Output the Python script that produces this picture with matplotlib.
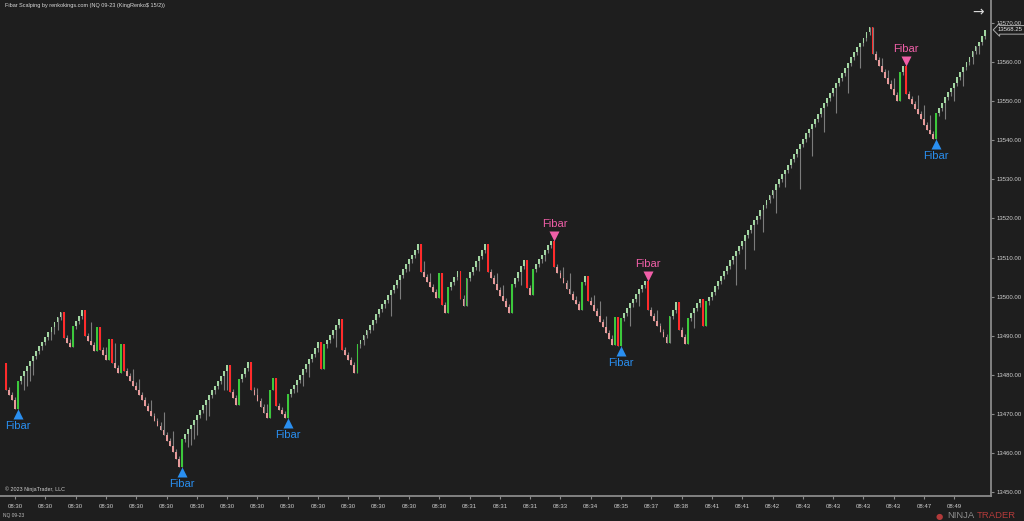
import numpy as np
import matplotlib
matplotlib.use("Agg")
import matplotlib.pyplot as plt
from matplotlib.transforms import offset_copy

# --- données ---
start_open = 13483.0
closes = [
    13476.0, 13474.75, 13473.5, 13471.25, 13478.5,                      # 0-4
    13479.75, 13481.0, 13482.25, 13483.5, 13484.75, 13486.0, 13487.25,
    13488.5, 13489.75, 13491.0, 13492.25, 13493.5, 13494.75, 13496.0,    # 5-18
    13489.5, 13488.25, 13487.0, 13492.5, 13493.75, 13495.0, 13496.5,
    13490.0, 13488.75, 13487.5, 13486.0, 13492.25, 13486.25, 13485.0,
    13483.75, 13489.25, 13483.0, 13481.75, 13480.5, 13487.75, 13481.0,   # 19-39
    13479.75, 13478.5, 13477.25, 13476.0, 13474.75, 13473.5, 13472.0,
    13470.75, 13469.5, 13468.25, 13467.0, 13465.75, 13464.5, 13463.0,
    13461.75, 13460.25, 13458.5, 13456.5,                                # 40-57
    13463.5,                                                             # 58
    13464.75, 13466.0, 13467.25, 13468.5, 13469.75, 13471.0, 13472.25,
    13473.5, 13474.75, 13476.0, 13477.25, 13478.5, 13479.75, 13481.0,
    13482.5,                                                             # 59-73
    13475.5, 13474.0, 13472.25, 13479.0, 13480.25, 13481.75, 13483.25,
    13476.0, 13474.75, 13473.25, 13471.75, 13470.25, 13469.0, 13476.0,
    13479.25, 13472.0, 13471.0, 13470.0, 13469.0,                        # 74-92
    13475.0,                                                             # 93
    13476.25, 13477.5, 13478.75, 13480.0, 13481.5, 13482.75, 13484.0,
    13485.25, 13486.75, 13488.5,                                         # 94-103
    13481.5, 13487.75, 13489.0, 13490.25, 13491.5, 13492.75, 13494.25,
    13486.25, 13485.0, 13483.75, 13482.5, 13480.5, 13487.75,             # 104-116
    13489.0, 13490.25, 13491.5, 13492.75, 13494.0, 13495.5, 13496.75,
    13498.0, 13499.25, 13500.5, 13501.75, 13503.0, 13504.25, 13505.5,
    13507.0, 13508.25, 13509.5, 13510.75, 13512.0, 13513.5,              # 117-136
    13506.25, 13505.0, 13503.75, 13502.5, 13501.25, 13499.75, 13506.0,
    13497.75, 13495.75, 13502.5,                                         # 137-146
    13503.75, 13505.0, 13506.5, 13499.5, 13497.5, 13504.75,              # 147-152
    13506.25, 13507.5, 13509.0, 13510.5, 13512.0, 13513.5,               # 153-158
    13506.25, 13504.75, 13503.25, 13501.75, 13500.25, 13498.75, 13497.25,
    13495.75,                                                            # 159-166
    13503.25, 13504.75, 13506.25, 13507.75, 13509.25, 13502.25, 13500.5,
    13507.0,                                                             # 167-174
    13508.25, 13509.5, 13510.75, 13512.0, 13513.25, 13514.25,            # 175-180
    13507.5, 13506.0, 13504.75, 13503.5, 13502.0, 13500.75, 13499.25,
    13498.0, 13496.5,                                                    # 181-189
    13503.75, 13505.25, 13499.0,                                         # 190-192
    13497.75, 13496.25, 13495.0, 13493.5, 13492.25, 13490.75, 13489.25,
    13487.5,                                                             # 193-200
    13494.75, 13487.25, 13494.5,                                         # 201-203
    13495.75, 13497.0, 13498.25, 13499.5, 13500.75, 13502.0, 13503.0,
    13504.0,                                                             # 204-211
    13496.5, 13495.0, 13493.75, 13492.5, 13491.0, 13489.75, 13488.25,    # 212-218
    13495.0, 13496.5, 13498.5, 13491.5, 13489.75, 13487.75, 13494.5,     # 219-225
    13495.75, 13497.0, 13498.25, 13499.5, 13492.5, 13498.75,             # 226-231
    13500.0, 13501.25, 13502.75, 13504.0, 13505.25, 13506.5, 13507.75,
    13509.25, 13510.5, 13511.75, 13513.0, 13514.25, 13515.75, 13517.0,
    13518.25, 13519.5, 13520.75, 13522.25, 13523.5, 13524.75, 13526.0,
    13527.25, 13528.75, 13530.0, 13531.25, 13532.5, 13533.75, 13535.25,
    13536.5, 13537.75, 13539.0, 13540.25, 13541.75, 13543.0, 13544.25,
    13545.5, 13546.75, 13548.25, 13549.5, 13550.75, 13552.0, 13553.25,
    13554.75, 13556.0, 13557.25, 13558.5, 13559.75, 13561.25, 13562.5,
    13563.75, 13565.0, 13566.25, 13567.75, 13569.0,                      # 232-285
    13562.0, 13560.5, 13559.0, 13557.5, 13556.0, 13554.5, 13553.0,
    13551.5, 13550.0,                                                    # 286-294
    13557.5, 13559.0, 13551.75,                                          # 295-297
    13550.5, 13549.25, 13548.0, 13546.75, 13545.5, 13544.0, 13542.75,
    13541.5, 13540.25,                                                   # 298-306
    13547.0,                                                             # 307
    13548.25, 13549.5, 13551.0, 13552.25, 13553.5, 13554.75, 13556.25,
    13557.5, 13558.75, 13560.0, 13561.25, 13562.75, 13564.0, 13565.25,
    13566.75, 13568.25,                                                  # 308-323
]

# mèches visibles (barre, prix extrême)
wick_bar = [6, 7, 8, 9, 15, 16, 17, 28, 33, 36, 42, 44, 48, 52, 55,
            60, 61, 62, 63, 66, 67, 72, 73, 83, 86, 96, 98, 100,
            109, 118, 121, 127, 130, 133, 138, 140, 156, 162, 164, 170, 178,
            184, 186, 194, 196, 198, 206, 209, 215, 227,
            241, 244, 247, 250, 254, 257, 262, 266, 270, 274, 278, 282,
            289, 291, 293, 301, 303, 305, 310, 313, 316, 319, 321]
wick_price = [13476.0, 13477.0, 13478.5, 13480.0, 13489.0, 13490.5, 13491.5,
              13493.5, 13487.0, 13488.0, 13481.5, 13479.0, 13473.5, 13470.5,
              13465.5, 13461.5, 13462.0, 13463.5, 13464.5, 13468.5, 13469.5,
              13476.0, 13476.0, 13476.5, 13472.5, 13475.5, 13477.0,
              13479.5, 13487.0, 13487.5, 13491.5, 13495.0, 13499.5, 13506.5, 13509.0,
              13506.0, 13506.5, 13506.0, 13503.0, 13503.0, 13509.0, 13507.5,
              13506.0, 13500.5, 13499.0, 13495.0, 13492.5, 13497.5, 13496.5,
              13492.0, 13503.0, 13507.0, 13512.0, 13516.5, 13521.5, 13528.0,
              13527.5, 13536.0, 13542.0, 13547.0, 13552.0, 13558.5, 13561.0,
              13558.0, 13556.0, 13551.5, 13549.0, 13546.5, 13545.5, 13550.0,
              13554.0, 13559.5, 13562.0]

fibar_up = [4, 58, 93, 203, 307]
fibar_dn = [181, 212, 297]

tick_bars = list(range(3, 314, 10))
tick_labels = ['08:30', '08:30', '08:30', '08:30', '08:30', '08:30', '08:30', '08:30',
               '08:30', '08:30', '08:30', '08:30', '08:30', '08:30', '08:30', '08:31',
               '08:31', '08:31', '08:33', '08:34', '08:35', '08:37', '08:38', '08:41',
               '08:41', '08:42', '08:43', '08:43', '08:43', '08:43', '08:47', '08:49']
price_ticks = [13450, 13460, 13470, 13480, 13490, 13500, 13510, 13520,
               13530, 13540, 13550, 13560, 13570]

# --- préparation ---
c = np.array(closes)
o = np.concatenate([[start_open], c[:-1]])
x = np.arange(len(c))
up = c > o
rev = np.abs(c - o) > 3
body_lo = np.minimum(o, c)
body_hi = np.maximum(o, c)
lo = np.where(up & ~rev, body_lo - 0.8, body_lo)
hi = np.where(~up & ~rev, body_hi + 0.8, body_hi)
for b, p in zip(wick_bar, wick_price):
    if p < body_lo[b]:
        lo[b] = min(lo[b], p)
    else:
        hi[b] = max(hi[b], p)

col = np.where(up, np.where(rev, '#3cc83c', '#a2d6a2'),
               np.where(rev, '#ff2b2b', '#e69a9a'))

bg = '#1e1e1e'
plt.rcParams['font.family'] = ['Liberation Sans', 'DejaVu Sans']
fig = plt.figure(figsize=(10.24, 5.21), dpi=100, facecolor=bg)
ax = fig.add_axes([0, 25 / 521, 991 / 1024, 496 / 521])
ax.set_facecolor(bg)

ax.vlines(x, lo, hi, color='#7c7c7c', lw=0.8, zorder=2)
ax.bar(x, body_hi - body_lo, bottom=body_lo, width=0.62, color=col,
       linewidth=0, zorder=3)

ax.set_xlim(-1.98, 325.1)
ax.set_ylim(13448.98, 13575.89)

# Fibar
t_up_a = offset_copy(ax.transData, fig=fig, y=-5, units='dots')
t_dn_a = offset_copy(ax.transData, fig=fig, y=5, units='dots')
for b in fibar_up:
    ax.plot(b, body_lo[b], marker='^', ms=6.5, color='#2a8ff0', mec='none',
            transform=t_up_a, zorder=4)
    ax.annotate('Fibar', xy=(b, body_lo[b]), xytext=(0, -17), textcoords='offset pixels',
                ha='center', va='center', color='#2a8ff0', fontsize=8)
for b in fibar_dn:
    ax.plot(b, body_hi[b], marker='v', ms=6.5, color='#f05fa8', mec='none',
            transform=t_dn_a, zorder=4)
    ax.annotate('Fibar', xy=(b, body_hi[b]), xytext=(0, 17), textcoords='offset pixels',
                ha='center', va='center', color='#f05fa8', fontsize=8)

# axes
for s in ['top', 'left']:
    ax.spines[s].set_visible(False)
for s in ['right', 'bottom']:
    ax.spines[s].set_color('#8a8a8a')
    ax.spines[s].set_linewidth(1.3)
ax.yaxis.tick_right()
ax.set_yticks(price_ticks)
ax.set_yticklabels([f'{p:.2f}' for p in price_ticks])
ax.set_xticks(tick_bars)
ax.set_xticklabels(tick_labels)
ax.tick_params(axis='both', colors='#8a8a8a', labelcolor='#cfcfcf', labelsize=4.3,
               length=2.5, width=0.8, pad=1.5)
ax.tick_params(axis='x', pad=3)

# étiquette du dernier prix
ax.annotate(f'{closes[-1]:.2f}', xy=(1.0, closes[-1]), xycoords=ax.get_yaxis_transform(),
            xytext=(7, 0), textcoords='offset pixels', ha='left', va='center',
            fontsize=4.3, color='#e6e6e6', annotation_clip=False,
            bbox=dict(boxstyle='larrow,pad=0.3', fc=bg, ec='#aaaaaa', lw=0.7))

# textes
fig.text(5 / 1024, 1 - 6 / 521, 'Fibar Scalping by renkokings.com (NQ 09-23 (KingRenko$ 15/2))',
         fontsize=4.0, color='#d8d8d8', va='center')
fig.text(978 / 1024, 1 - 12 / 521, '→', fontsize=10, color='#d8d8d8', va='center',
         ha='center', family='DejaVu Sans')
fig.text(5 / 1024, 1 - 489 / 521, '© 2023 NinjaTrader, LLC', fontsize=3.9,
         color='#cfcfcf', va='center')
fig.text(3 / 1024, 1 - 515 / 521, 'NQ 09-23', fontsize=3.5, color='#bdbdbd', va='center')
fig.text(947 / 1024, 1 - 516 / 521, 'NINJA', fontsize=6.8, color='#8c8c8c', va='center')
fig.text(977 / 1024, 1 - 516 / 521, 'TRADER', fontsize=6.8, color='#b23a3a', va='center')
fig.text(939 / 1024, 1 - 516 / 521, '●', fontsize=6, color='#b23a3a', va='center',
         ha='center', family='DejaVu Sans')

fig.savefig('out.png', dpi=100, facecolor=bg)
